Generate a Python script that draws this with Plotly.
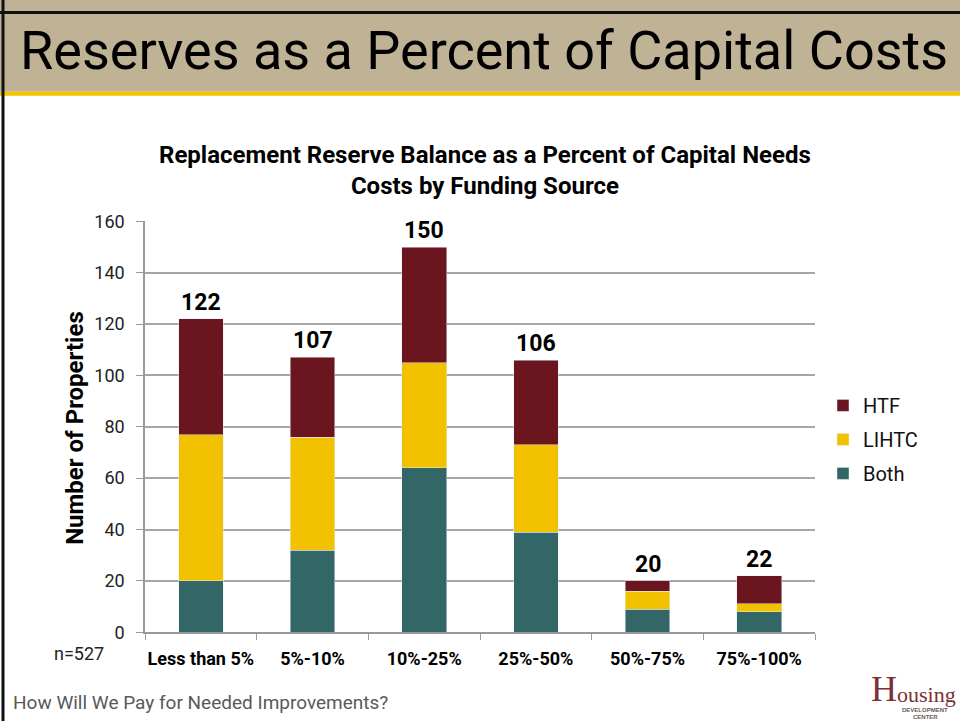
import plotly.graph_objects as go

W, H = 960, 721
# effective drawing box of the page: the figure sits 8px down and spans 702px
TOP, SPAN = 8, 702

# Funding-source breakdown per reserve band
categories = ["Less than 5%", "5%-10%", "10%-25%", "25%-50%", "50%-75%", "75%-100%"]
both = [20, 32, 64, 39, 9, 8]
lihtc = [57, 44, 41, 34, 7, 3]
htf = [45, 31, 45, 33, 4, 11]
totals = [b + l + h for b, l, h in zip(both, lihtc, htf)]
y_ticks = [0, 20, 40, 60, 80, 100, 120, 140, 160]

FONT = "Roboto"
COL_BOTH = "#336666"
COL_LIHTC = "#F2C200"
COL_HTF = "#6B161E"
LOGO = "#7E2F33"


def px_x(x):
    return x / W


def px_y(y):
    return 1 - (y - TOP) / SPAN


fig = go.Figure()
fig.add_trace(go.Bar(x=categories, y=both, name="Both", marker_color=COL_BOTH,
                     legendgroup="both", legendrank=3))
fig.add_trace(go.Bar(x=categories, y=lihtc, name="LIHTC", marker_color=COL_LIHTC,
                     legendgroup="lihtc", legendrank=2))
fig.add_trace(go.Bar(x=categories, y=htf, name="HTF", marker_color=COL_HTF,
                     legendgroup="htf", legendrank=1))

# Stack totals above each bar
for c, t in zip(categories, totals):
    fig.add_annotation(x=c, y=t, text=f"<b>{t}</b>", showarrow=False, yanchor="bottom",
                       yshift=1, font=dict(family=FONT, size=23, color="#000"))

shapes = [
    # header band
    dict(type="rect", xref="paper", yref="paper", x0=0, x1=1, y0=px_y(89), y1=1.05,
         fillcolor="#C0B395", line_width=0, layer="below"),
    dict(type="rect", xref="paper", yref="paper", x0=0, x1=1, y0=px_y(93), y1=px_y(89),
         fillcolor="#F5C400", line_width=0, layer="below"),
    # slide frame
    dict(type="line", xref="paper", yref="paper", x0=px_x(3), x1=px_x(3), y0=-0.05, y1=1.05,
         line=dict(color="#111", width=3)),
    dict(type="line", xref="paper", yref="paper", x0=0, x1=1, y0=0.998, y1=0.998,
         line=dict(color="#111", width=3)),
]

annotations_extra = [
    dict(text="Reserves as a Percent of Capital Costs", x=px_x(18), y=px_y(48),
         xanchor="left", yanchor="middle", font=dict(family=FONT, size=54, color="#000")),
    dict(text="<b>Replacement Reserve Balance as a Percent of Capital Needs<br>Costs by Funding Source</b>",
         x=px_x(485), y=px_y(168), xanchor="center", yanchor="middle",
         font=dict(family=FONT, size=24, color="#000")),
    dict(text="<b>Number of Properties</b>", x=px_x(75), y=px_y(426), textangle=-90,
         xanchor="center", yanchor="middle", font=dict(family=FONT, size=24, color="#000")),
    dict(text="n=527", x=px_x(52), y=px_y(652), xanchor="left", yanchor="middle",
         font=dict(family=FONT, size=18, color="#222")),
    dict(text="How Will We Pay for Needed Improvements?", x=px_x(11), y=px_y(701),
         xanchor="left", yanchor="middle", font=dict(family=FONT, size=19, color="#595959")),
    # logo wordmark
    dict(text="H", x=px_x(870), y=px_y(688), xanchor="left", yanchor="middle", borderpad=0,
         font=dict(family="Liberation Serif", size=36, color=LOGO)),
    dict(text="ousing", x=px_x(896), y=px_y(693), xanchor="left", yanchor="middle", borderpad=0,
         font=dict(family="Liberation Serif", size=22, color=LOGO)),
    dict(text="<b>DEVELOPMENT</b>", x=px_x(925), y=px_y(709), xanchor="center", yanchor="middle",
         borderpad=0, font=dict(family="Liberation Sans", size=6, color="#6b5a55")),
    dict(text="<b>CENTER</b>", x=px_x(925), y=px_y(716), xanchor="center", yanchor="middle",
         borderpad=0, font=dict(family="Liberation Sans", size=6, color="#6b5a55")),
]
for a in annotations_extra:
    fig.add_annotation(xref="paper", yref="paper", showarrow=False, **a)

fig.update_layout(
    width=W, height=H,
    margin=dict(l=0, r=0, t=0, b=0),
    paper_bgcolor="white", plot_bgcolor="white",
    barmode="stack", bargap=0.6,
    shapes=shapes,
    font=dict(family=FONT, color="#222"),
    legend=dict(x=px_x(823), y=px_y(384), xanchor="left", yanchor="top",
                traceorder="grouped", tracegroupgap=5,
                font=dict(family=FONT, size=20, color="#111"), bgcolor="rgba(0,0,0,0)"),
    xaxis=dict(domain=[px_x(145), px_x(815)], showline=True, linecolor="#9a9a9a", linewidth=1.5,
               ticks="outside", tickson="boundaries", ticklen=6, tickcolor="#9a9a9a",
               tickangle=0, ticklabelstandoff=9,
               tickfont=dict(family=FONT, size=18, color="#000", weight="bold"),
               showgrid=False),
    yaxis=dict(domain=[px_y(631), px_y(219)], range=[0, 160], tickvals=y_ticks,
               showline=True, linecolor="#9a9a9a", linewidth=1.5,
               ticks="outside", ticklen=7, tickcolor="#9a9a9a", ticklabelstandoff=8,
               showgrid=True, gridcolor="#a6a6a6", gridwidth=1.5, zeroline=False,
               tickfont=dict(family=FONT, size=18, color="#222")),
)

fig.write_html("out.html")
